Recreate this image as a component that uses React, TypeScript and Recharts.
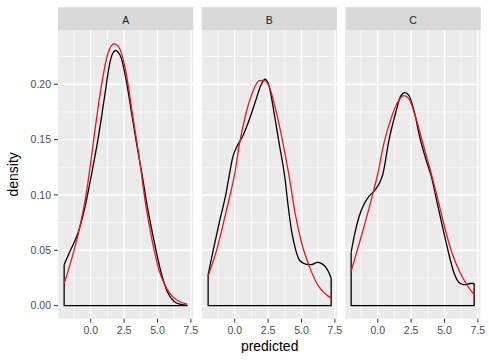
import React from 'react';
import { LineChart, Line, XAxis, YAxis, CartesianGrid } from 'recharts';

// ---- data ----
const panels = ['A', 'B', 'C'];
const xTicks = [0, 2.5, 5, 7.5];
const xMinor = [-1.25, 1.25, 3.75, 6.25];
const yTicks = [0, 0.05, 0.1, 0.15, 0.2];
const yMinor = [0.025, 0.075, 0.125, 0.175, 0.225];

// black: kernel density of predicted, [predicted, density]
const densityA: [number, number][] = [
  [-1.99, 0.037], [-1.56, 0.049], [-0.94, 0.066], [-0.45, 0.088], [0.05, 0.118],
  [0.54, 0.15], [1.04, 0.189], [1.41, 0.218], [1.65, 0.228], [1.86, 0.2305],
  [2.05, 0.229], [2.28, 0.224], [2.65, 0.204], [3.14, 0.168], [3.51, 0.141],
  [3.85, 0.118], [4.26, 0.088], [4.75, 0.058], [5.25, 0.031], [5.74, 0.0125],
  [6.24, 0.0038], [6.73, 0.0012], [7.22, 0.0004],
];
const densityB: [number, number][] = [
  [-1.99, 0.028], [-1.63, 0.049], [-1.14, 0.076], [-0.64, 0.102], [-0.42, 0.117],
  [-0.15, 0.134], [0.22, 0.145], [0.59, 0.153], [1.09, 0.168], [1.59, 0.186],
  [1.96, 0.199], [2.26, 0.2045], [2.58, 0.198], [2.95, 0.174], [3.32, 0.147],
  [3.75, 0.116], [4.0, 0.09], [4.25, 0.068], [4.55, 0.051], [4.85, 0.041],
  [5.3, 0.0375], [5.7, 0.037], [6.2, 0.039], [6.5, 0.038], [6.8, 0.035],
  [7.0, 0.031], [7.22, 0.025],
];
const densityC: [number, number][] = [
  [-1.99, 0.048], [-1.72, 0.065], [-1.38, 0.081], [-1.01, 0.092], [-0.64, 0.099],
  [-0.27, 0.1035], [0.1, 0.11], [0.37, 0.118], [0.85, 0.15], [1.34, 0.174],
  [1.71, 0.189], [2.03, 0.1924], [2.33, 0.19], [2.7, 0.177], [3.19, 0.15],
  [3.69, 0.129], [4.01, 0.117], [4.43, 0.094], [4.93, 0.067], [5.3, 0.048],
  [5.67, 0.031], [6.04, 0.0215], [6.3, 0.0195], [6.6, 0.019], [6.9, 0.02],
  [7.22, 0.02],
];

// red: fitted normal curve, [predicted, density]
const normalA: [number, number][] = [
  [-1.99, 0.02], [-1.43, 0.042], [-0.82, 0.071], [-0.35, 0.1], [-0.05, 0.125],
  [0.3, 0.157], [0.79, 0.198], [1.29, 0.228], [1.75, 0.2364], [2.15, 0.2325],
  [2.65, 0.21], [3.15, 0.171], [3.64, 0.133], [4.13, 0.09], [4.63, 0.057],
  [5.12, 0.032], [5.5, 0.02], [6.0, 0.01], [6.5, 0.0046], [7.22, 0.0013],
];
const normalB: [number, number][] = [
  [-1.99, 0.027], [-1.38, 0.049], [-0.76, 0.079], [-0.27, 0.104], [0.0, 0.119],
  [0.35, 0.146], [0.85, 0.174], [1.34, 0.193], [1.83, 0.2033], [2.2, 0.2035],
  [2.58, 0.198], [3.07, 0.177], [3.56, 0.15], [4.1, 0.115], [4.5, 0.085],
  [5.0, 0.057], [5.6, 0.035], [6.2, 0.019], [6.8, 0.0105], [7.22, 0.0068],
];
const normalC: [number, number][] = [
  [-1.99, 0.031], [-1.51, 0.051], [-1.01, 0.072], [-0.39, 0.1], [-0.02, 0.118],
  [0.47, 0.147], [0.97, 0.168], [1.46, 0.183], [1.96, 0.1897], [2.33, 0.187],
  [2.82, 0.171], [3.44, 0.144], [4.06, 0.117], [4.56, 0.093], [5.05, 0.069],
  [5.55, 0.048], [6.16, 0.03], [6.78, 0.017], [7.22, 0.01],
];

const densities = [densityA, densityB, densityC];
const normals = [normalA, normalB, normalC];

// ---- layout / style ----
const X_DOMAIN: [number, number] = [-2.45, 7.68];
const Y_DOMAIN: [number, number] = [-0.0118, 0.249];
const PANEL_TOP = 30;
const PANEL_H = 288.7;
const PANEL_W = 135.3;
const PANEL_LEFTS = [58, 201.7, 345.4];
const Y_AXIS_W = 58;
const X_AXIS_H = 34;
const RIGHT_PAD = 8;
const STRIP_TOP = 7.3;
const STRIP_H = 22.7;
const FONT = '"Liberation Sans", Arial, Helvetica, sans-serif';
const RED = '#F0141E';

const toRows = (pts: [number, number][]) => pts.map(([x, y]) => ({ x, y }));
const outline = (pts: [number, number][]) => {
  const f = pts[0];
  const l = pts[pts.length - 1];
  return [
    { x: f[0], y: f[1] },
    { x: f[0], y: 0 },
    { x: l[0], y: 0 },
    { x: l[0], y: l[1] },
  ];
};

function Panel({ index }: { index: number }) {
  const first = index === 0;
  const middle = index === 1;
  const width = PANEL_W + (first ? Y_AXIS_W : 0) + RIGHT_PAD;
  const left = PANEL_LEFTS[index] - (first ? Y_AXIS_W : 0);
  const density = densities[index];
  const normal = normals[index];
  return (
    <div style={{ position: 'absolute', left, top: PANEL_TOP }}>
      <LineChart
        width={width}
        height={PANEL_H + X_AXIS_H}
        margin={{ top: 0, right: RIGHT_PAD, bottom: 0, left: 0 }}
        style={{ overflow: 'visible' }}
      >
        <CartesianGrid
          fill="#EBEBEB"
          fillOpacity={1}
          stroke="#FFFFFF"
          strokeWidth={0.7}
          horizontalValues={yMinor}
          verticalValues={xMinor}
        />
        <CartesianGrid
          stroke="#FFFFFF"
          strokeWidth={1.4}
          horizontalValues={yTicks}
          verticalValues={xTicks}
        />
        <XAxis
          dataKey="x"
          type="number"
          domain={X_DOMAIN}
          ticks={xTicks}
          interval={0}
          allowDataOverflow
          height={X_AXIS_H}
          axisLine={false}
          tickLine={{ stroke: '#333333' }}
          tickSize={4}
          tickMargin={3.8}
          tick={{ fill: '#4D4D4D', fontSize: 10.5 }}
          tickFormatter={(v: number) => v.toFixed(1)}
          label={
            middle
              ? { value: 'predicted', position: 'insideBottom', offset: 1.7, fill: '#000000', fontSize: 14 }
              : undefined
          }
        />
        <YAxis
          type="number"
          domain={Y_DOMAIN}
          ticks={yTicks}
          interval={0}
          allowDataOverflow
          hide={!first}
          width={Y_AXIS_W}
          axisLine={false}
          tickLine={{ stroke: '#333333' }}
          tickSize={4}
          tickMargin={3}
          tick={{ fill: '#4D4D4D', fontSize: 10.5 }}
          tickFormatter={(v: number) => v.toFixed(2)}
          label={
            first
              ? { value: 'density', angle: -90, position: 'center', dx: -16, fill: '#000000', fontSize: 14 }
              : undefined
          }
        />
        <Line
          data={outline(density)}
          dataKey="y"
          type="linear"
          stroke="#000000"
          strokeWidth={1.3}
          dot={false}
          activeDot={false}
          isAnimationActive={false}
        />
        <Line
          data={toRows(density)}
          dataKey="y"
          type="monotone"
          stroke="#000000"
          strokeWidth={1.3}
          dot={false}
          activeDot={false}
          isAnimationActive={false}
        />
        <Line
          data={toRows(normal)}
          dataKey="y"
          type="monotone"
          stroke={RED}
          strokeWidth={1.3}
          dot={false}
          activeDot={false}
          isAnimationActive={false}
        />
      </LineChart>
    </div>
  );
}

export default function App() {
  return (
    <div
      style={{
        position: 'absolute',
        left: 0,
        top: 0,
        width: 489,
        height: 362,
        background: '#FFFFFF',
        fontFamily: FONT,
        overflow: 'hidden',
      }}
    >
      <svg width={489} height={32} style={{ position: 'absolute', left: 0, top: 0 }}>
        {panels.map((p, i) => (
          <g key={p}>
            <rect x={PANEL_LEFTS[i]} y={STRIP_TOP} width={PANEL_W} height={STRIP_H} fill="#D9D9D9" />
            <text
              x={PANEL_LEFTS[i] + PANEL_W / 2}
              y={24}
              textAnchor="middle"
              fontSize={10.5}
              fill="#1A1A1A"
              fontFamily={FONT}
            >
              {p}
            </text>
          </g>
        ))}
      </svg>
      {panels.map((p, i) => (
        <Panel key={p} index={i} />
      ))}
    </div>
  );
}
